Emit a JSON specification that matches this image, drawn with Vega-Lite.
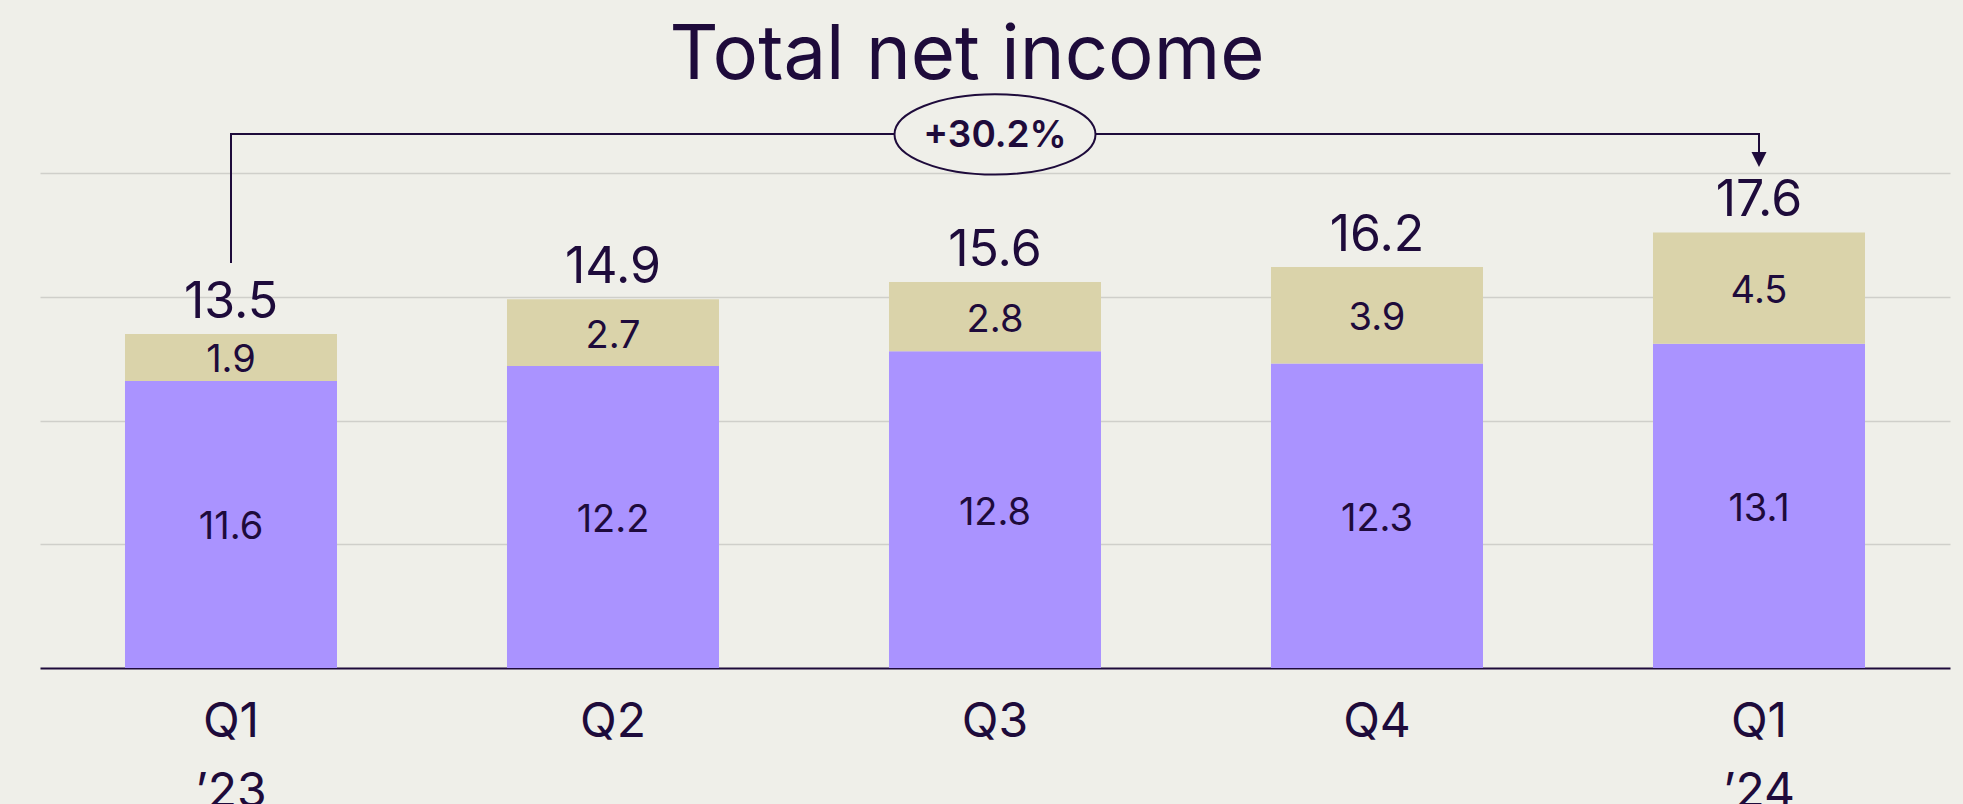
{
  "$schema": "https://vega.github.io/schema/vega-lite/v6.json",
  "autosize": {"type": "none"},
  "width": 1910,
  "height": 495,
  "padding": {"left": 40, "top": 173, "right": 13, "bottom": 136},
  "background": "#EFEFE9",
  "config": {
    "view": {"stroke": null},
    "font": "Inter",
    "text": {"font": "Inter", "color": "#1E0B3B"}
  },
  "datasets": {
    "segments": [
      {"quarter": "Q1|’23", "segment": "core", "order": 1, "value": 11.6},
      {"quarter": "Q1|’23", "segment": "other", "order": 2, "value": 1.9},
      {"quarter": "Q2", "segment": "core", "order": 1, "value": 12.2},
      {"quarter": "Q2", "segment": "other", "order": 2, "value": 2.7},
      {"quarter": "Q3", "segment": "core", "order": 1, "value": 12.8},
      {"quarter": "Q3", "segment": "other", "order": 2, "value": 2.8},
      {"quarter": "Q4", "segment": "core", "order": 1, "value": 12.3},
      {"quarter": "Q4", "segment": "other", "order": 2, "value": 3.9},
      {"quarter": "Q1|’24", "segment": "core", "order": 1, "value": 13.1},
      {"quarter": "Q1|’24", "segment": "other", "order": 2, "value": 4.5}
    ],
    "totals": [
      {"quarter": "Q1|’23", "total": 13.5},
      {"quarter": "Q2", "total": 14.9},
      {"quarter": "Q3", "total": 15.6},
      {"quarter": "Q4", "total": 16.2},
      {"quarter": "Q1|’24", "total": 17.6}
    ],
    "bracket": [
      {"quarter": "Q1|’23", "y": 16.36, "step": 1},
      {"quarter": "Q1|’23", "y": 21.58, "step": 2},
      {"quarter": "Q1|’24", "y": 21.58, "step": 3},
      {"quarter": "Q1|’24", "y": 20.6, "step": 4}
    ],
    "arrow": [{"quarter": "Q1|’24", "y": 20.55}],
    "badge": [{"quarter": "Q3", "y": 21.56, "label": "+30.2%"}],
    "heading": [{"quarter": "Q3", "y": 23.8, "label": "Total net income"}]
  },
  "encoding": {
    "x": {
      "field": "quarter",
      "type": "nominal",
      "sort": ["Q1|’23", "Q2", "Q3", "Q4", "Q1|’24"],
      "scale": {"paddingInner": 0.445, "paddingOuter": 0.2225},
      "axis": {
        "title": null,
        "labelExpr": "split(datum.label, '|')",
        "labelAngle": 0,
        "labelFont": "Inter",
        "labelFontSize": 48,
        "labelColor": "#1E0B3B",
        "labelBaseline": "alphabetic",
        "labelPadding": 68,
        "labelLineHeight": 70,
        "ticks": false,
        "domainColor": "#1E0B3B",
        "domainWidth": 2,
        "grid": false
      }
    }
  },
  "layer": [
    {
      "data": {"name": "segments"},
      "mark": {"type": "bar"},
      "encoding": {
        "y": {
          "field": "value",
          "type": "quantitative",
          "stack": "zero",
          "scale": {"domain": [0, 20], "nice": false},
          "axis": {
            "title": null,
            "labels": false,
            "ticks": false,
            "domain": false,
            "values": [5, 10, 15, 20],
            "gridColor": "#CFCFCA",
            "gridWidth": 1.5
          }
        },
        "color": {
          "field": "segment",
          "type": "nominal",
          "scale": {"domain": ["core", "other"], "range": ["#AA93FF", "#DAD3AA"]},
          "legend": null
        },
        "order": {"field": "order", "type": "quantitative"}
      }
    },
    {
      "data": {"name": "segments"},
      "mark": {"type": "text", "fontSize": 38, "baseline": "middle", "align": "center", "dy": 4, "color": "#1E0B3B"},
      "encoding": {
        "y": {"field": "value", "type": "quantitative", "stack": "zero", "bandPosition": 0.5},
        "order": {"field": "order", "type": "quantitative"},
        "text": {"field": "value", "type": "quantitative", "format": ".1f"}
      }
    },
    {
      "data": {"name": "totals"},
      "mark": {"type": "text", "fontSize": 50, "baseline": "alphabetic", "align": "center", "dy": -16, "color": "#1E0B3B"},
      "encoding": {
        "y": {"field": "total", "type": "quantitative"},
        "text": {"field": "total", "type": "quantitative", "format": ".1f"}
      }
    },
    {
      "data": {"name": "bracket"},
      "mark": {"type": "line", "color": "#1E0B3B", "strokeWidth": 2, "interpolate": "linear"},
      "encoding": {
        "y": {"field": "y", "type": "quantitative"},
        "order": {"field": "step", "type": "quantitative"}
      }
    },
    {
      "data": {"name": "arrow"},
      "mark": {"type": "point", "shape": "M-1,-1 L1,-1 L0,1 Z", "size": 225, "filled": true, "opacity": 1, "color": "#1E0B3B"},
      "encoding": {
        "y": {"field": "y", "type": "quantitative"}
      }
    },
    {
      "data": {"name": "badge"},
      "mark": {"type": "point", "shape": "M-1,0 A1,0.4 0 1,1 1,0 A1,0.4 0 1,1 -1,0 Z", "size": 40401, "filled": false, "fill": "#EFEFE9", "fillOpacity": 1, "stroke": "#1E0B3B", "strokeWidth": 2, "opacity": 1},
      "encoding": {
        "y": {"field": "y", "type": "quantitative"}
      }
    },
    {
      "data": {"name": "badge"},
      "mark": {"type": "text", "fontSize": 37, "fontWeight": 600, "baseline": "middle", "align": "center", "dy": 2, "color": "#1E0B3B"},
      "encoding": {
        "y": {"field": "y", "type": "quantitative"},
        "text": {"field": "label", "type": "nominal"}
      }
    },
    {
      "data": {"name": "heading"},
      "mark": {"type": "text", "fontSize": 76, "fontWeight": 400, "baseline": "alphabetic", "align": "center", "dx": -28, "color": "#1E0B3B"},
      "encoding": {
        "y": {"field": "y", "type": "quantitative"},
        "text": {"field": "label", "type": "nominal"}
      }
    }
  ]
}
